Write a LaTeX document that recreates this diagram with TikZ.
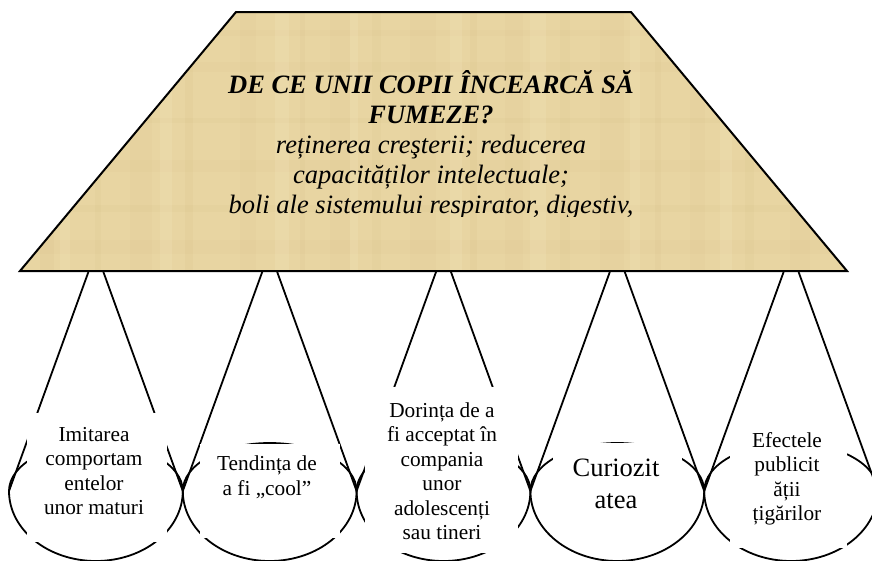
\documentclass[tikz,border=0pt]{standalone}
\usepackage{fontspec}
\setmainfont{Liberation Serif}
\definecolor{parch}{RGB}{232,213,162}
\definecolor{parchdark}{RGB}{200,172,112}
\definecolor{parchlight}{RGB}{246,234,196}
\begin{document}
\begin{tikzpicture}[x=1pt,y=-1pt,
  cone/.style={line width=1.8pt, black, line cap=round},
  mask/.style={fill=white, draw=none, inner sep=0pt, anchor=north west},
  lbl/.style={align=center, inner sep=0pt, font=\fontsize{21.3}{24.5}\selectfont},
  headline/.style={inner sep=0pt, anchor=base, font=\fontsize{26.5}{30}\selectfont\itshape},
]
\clip (0,0) rectangle (872,560);
\fill[white] (0,0) rectangle (872,560);

% parchment trapezoid
\coordinate (tl) at (236,12);
\coordinate (tr) at (631,12);
\coordinate (br) at (847,271);
\coordinate (bl) at (20,271);
\fill[parch] (tl) -- (tr) -- (br) -- (bl) -- cycle;
\begin{scope}
  \clip (tl) -- (tr) -- (br) -- (bl) -- cycle;
  % faint papyrus fibres
  \foreach \x/\w/\o in {40/14/.08, 95/6/.07, 130/22/.05, 185/8/.09, 240/16/.06,
      300/5/.08, 330/20/.05, 372/9/.07, 410/26/.05, 470/7/.09, 505/18/.05,
      560/10/.07, 600/24/.05, 655/6/.08, 690/15/.06, 745/9/.07, 790/20/.05}
    \fill[parchdark, opacity=\o] (\x,0) rectangle ++(\w,280);
  \foreach \y/\h/\o in {30/6/.06, 62/10/.05, 118/5/.07, 160/12/.05, 205/7/.07, 240/14/.06}
    \fill[parchdark, opacity=\o] (0,\y) rectangle ++(872,\h);
  \foreach \x/\w in {60/10, 160/12, 275/14, 350/8, 450/12, 530/16, 630/10, 720/12}
    \fill[parchlight, opacity=.2] (\x,0) rectangle ++(\w,280);
\end{scope}
\draw[line width=2pt, line join=miter] (tl) -- (tr) -- (br) -- (bl) -- cycle;

% heading and its text, the last line cut off at the bottom
\begin{scope}
  \clip (0,0) rectangle (872,216);
  \node[headline, font=\fontsize{26.5}{30}\selectfont\bfseries\itshape] (h1) at (431,93) {DE CE UNII COPII ÎNCEARCĂ SĂ};
  \node[headline, font=\fontsize{26.5}{30}\selectfont\bfseries\itshape] (h2) at (431,123) {FUMEZE?};
  \node[headline] (h3) at (431,153) {reținerea creşterii; reducerea};
  \node[headline] (h4) at (431,183) {capacităților intelectuale;};
  \node[headline] (h5) at (431,213) {boli ale sistemului respirator, digestiv,};
\end{scope}

% junction points between neighbouring cones and the apex points on the base
\foreach \i in {0,...,5}
  \coordinate (j\i) at ({9+173.8*\i},491);
\foreach \i in {1,...,5}{
  \coordinate (al\i) at ({9+173.8*(\i-0.5)-7.5},272);
  \coordinate (ar\i) at ({9+173.8*(\i-0.5)+7.5},272);
}

% cones: two sides down to the junctions and an egg-shaped bowl
\foreach \i [evaluate=\i as \p using int(\i-1)] in {1,...,5}{
  \draw[cone] (al\i) -- (j\p);
  \draw[cone] (ar\i) -- (j\i);
  \draw[cone] (j\p) arc[start angle=180, end angle=0, x radius=86.9pt, y radius=48pt]
                    arc[start angle=0, end angle=-180, x radius=86.9pt, y radius=70pt];
}

% white text boxes over the cones
\node[mask, minimum width=140pt, minimum height=129pt] (m1) at (27,413) {};
\node[mask, minimum width=140pt, minimum height=94pt] (m2) at (200,443.8) {};
\node[mask, minimum width=153pt, minimum height=166pt] (m3) at (365,387) {};
\node[mask, minimum width=129pt, minimum height=90pt] (m4) at (553,442.6) {};
\node[mask, minimum width=117pt, minimum height=123pt] (m5) at (730,425) {};

\node[lbl] (t1) at (94,471) {Imitarea\\comportam\\entelor\\unor maturi};
\node[lbl] (t2) at (267,477) {Tendința de\\a fi „cool”};
\node[lbl] (t3) at (442,471) {Dorința de a\\fi acceptat în\\compania\\unor\\adolescenți\\sau tineri};
\node[lbl, font=\fontsize{26.5}{32}\selectfont] (t4) at (616,484) {Curiozit\\atea};
\node[lbl] (t5) at (787,479) {Efectele\\publicit\\ății\\țigărilor};
\end{tikzpicture}
\end{document}
